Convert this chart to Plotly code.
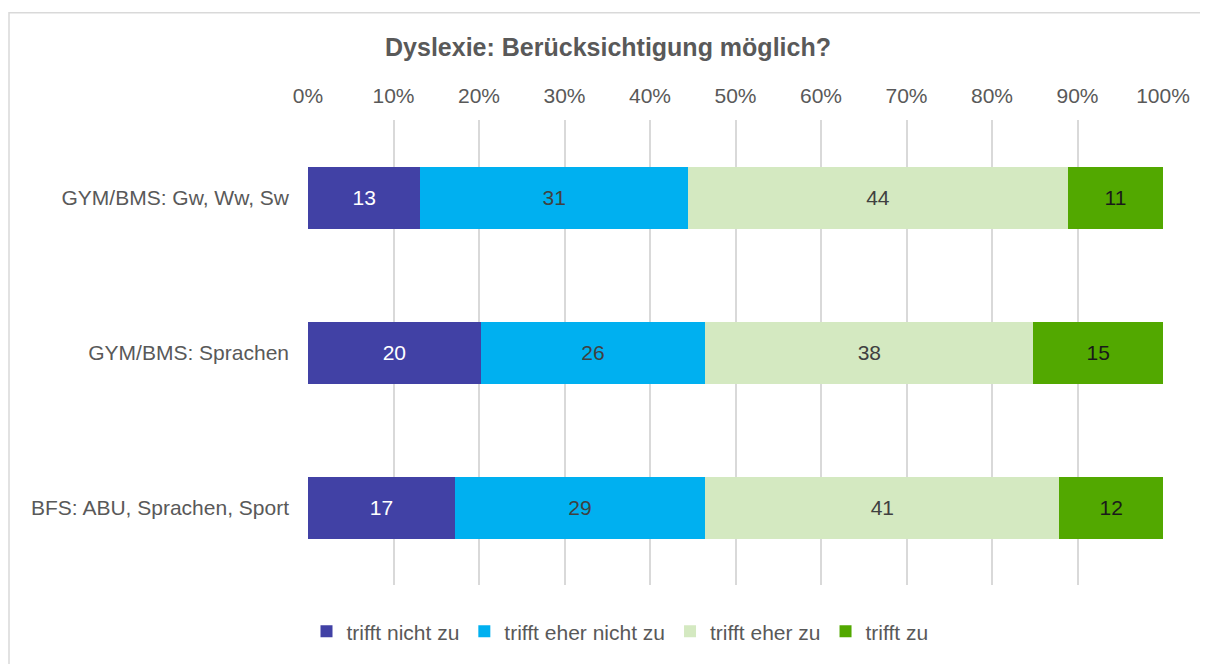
import plotly.graph_objects as go

categories = ["GYM/BMS: Gw, Ww, Sw", "GYM/BMS: Sprachen", "BFS: ABU, Sprachen, Sport"]
series_names = ["trifft nicht zu", "trifft eher nicht zu", "trifft eher zu", "trifft zu"]
nicht_zu = [13, 20, 17]
eher_nicht_zu = [31, 26, 29]
eher_zu = [44, 38, 41]
zu = [11, 15, 12]
tick_vals = [0, 10, 20, 30, 40, 50, 60, 70, 80, 90, 100]
tick_text = ["0%", "10%", "20%", "30%", "40%", "50%", "60%", "70%", "80%", "90%", "100%"]

colors = ["#4141A5", "#00B0F0", "#D4E9C1", "#52A800"]
text_colors = ["#FFFFFF", "#404040", "#404040", "#1A1A1A"]
series = [nicht_zu, eher_nicht_zu, eher_zu, zu]

W, H = 1200, 656
L, R, T, B = 300, 45, 112, 76
plot_w = W - L - R
plot_h = H - T - B

fig = go.Figure()
for name, vals, c, tc in zip(series_names, series, colors, text_colors):
    fig.add_trace(go.Bar(
        y=categories, x=vals, name=name, orientation="h",
        marker=dict(color=c, line=dict(width=0)),
        text=[str(v) for v in vals], textposition="inside",
        insidetextanchor="middle",
        textfont=dict(color=tc, size=21, family="Liberation Sans, Arial"),
        width=0.4,
    ))

fig.update_layout(
    barmode="stack", barnorm="percent",
    width=W, height=H,
    margin=dict(l=L, r=R, t=T, b=B),
    paper_bgcolor="white", plot_bgcolor="white",
    font=dict(family="Liberation Sans, Arial", color="#595959", size=21),
    title=dict(text="<b>Dyslexie: Berücksichtigung möglich?</b>", x=0.5, xanchor="center",
               y=1 - 39 / H, yanchor="middle", font=dict(size=25, color="#595959")),
    legend=dict(orientation="h", x=(612 - L) / plot_w, xanchor="center",
                y=-(627 - (H - B)) / plot_h, yanchor="middle",
                font=dict(size=21, color="#595959"), traceorder="normal",
                itemwidth=30),
    showlegend=True,
    uniformtext=dict(mode="show", minsize=10),
)
fig.update_xaxes(side="top", range=[0, 100], tickvals=tick_vals, ticktext=tick_text,
                 showgrid=True, gridcolor="#D9D9D9", gridwidth=1.5, zeroline=False,
                 showline=False, ticks="", ticklabelstandoff=12,
                 tickfont=dict(size=21, color="#595959"))
fig.update_yaxes(autorange="reversed", showgrid=False, showline=False, ticks="",
                 ticklabelstandoff=18, tickfont=dict(size=21, color="#595959"))

fig.add_shape(type="rect", xref="paper", yref="paper",
              x0=(1 - L) / plot_w, x1=1.2, y0=-0.3, y1=(H - B - 4) / plot_h,
              line=dict(color="#D9D9D9", width=1.5), fillcolor="rgba(0,0,0,0)", layer="below")

fig.write_html("out.html")
